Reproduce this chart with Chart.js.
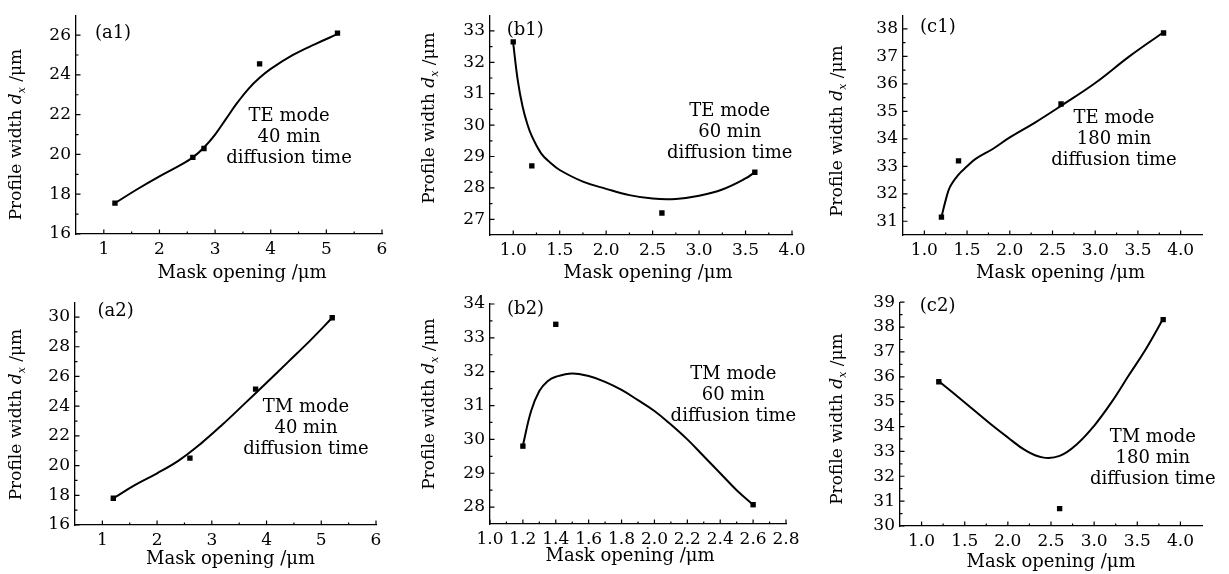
<!DOCTYPE html>
<html>
<head>
<meta charset="utf-8">
<script src="https://cdn.jsdelivr.net/npm/chart.js@4.4.0/dist/chart.umd.min.js"></script>
<style>
  body { margin: 0; background: #fff; }
  #wrap { position: relative; width: 1229px; height: 574px; }
  .cell { position: absolute; }
</style>
</head>
<body>
<div id="wrap">
  <div class="cell" style="left:0;top:0"><canvas id="a1" width="410" height="287"></canvas></div>
  <div class="cell" style="left:410px;top:0"><canvas id="b1" width="410" height="287"></canvas></div>
  <div class="cell" style="left:820px;top:0"><canvas id="c1" width="409" height="287"></canvas></div>
  <div class="cell" style="left:0;top:287px"><canvas id="a2" width="410" height="287"></canvas></div>
  <div class="cell" style="left:410px;top:287px"><canvas id="b2" width="410" height="287"></canvas></div>
  <div class="cell" style="left:820px;top:287px"><canvas id="c2" width="409" height="287"></canvas></div>
</div>
<script>
// measured points (squares)
const a1X = [1.2, 2.6, 2.8, 3.8, 5.2];
const a1Y = [17.55, 19.85, 20.3, 24.55, 26.1];
const b1X = [1.0, 1.2, 2.6, 3.6];
const b1Y = [32.65, 28.7, 27.2, 28.5];
const c1X = [1.2, 1.4, 2.6, 3.8];
const c1Y = [31.15, 33.2, 35.27, 37.85];
const a2X = [1.2, 2.6, 3.8, 5.2];
const a2Y = [17.8, 20.5, 25.15, 29.95];
const b2X = [1.2, 1.4, 2.6];
const b2Y = [29.8, 33.4, 28.07];
const c2X = [1.2, 2.6, 3.8];
const c2Y = [35.8, 30.7, 38.3];

// fitted curves
const a1CurveX = [1.2, 1.6, 2.0, 2.4, 2.6, 2.8, 3.0, 3.2, 3.4, 3.6, 3.8, 4.0, 4.4, 4.8, 5.2];
const a1CurveY = [17.55, 18.25, 18.9, 19.5, 19.85, 20.35, 21.0, 21.8, 22.6, 23.3, 23.85, 24.3, 25.0, 25.55, 26.05];
const b1CurveX = [1.0, 1.05, 1.1, 1.15, 1.2, 1.3, 1.4, 1.5, 1.75, 2.0, 2.25, 2.5, 2.75, 3.0, 3.25, 3.5, 3.6];
const b1CurveY = [32.6, 31.4, 30.6, 30.05, 29.65, 29.1, 28.8, 28.57, 28.2, 27.97, 27.77, 27.66, 27.65, 27.75, 27.95, 28.3, 28.5];
const c1CurveX = [1.2, 1.25, 1.3, 1.4, 1.5, 1.6, 1.8, 2.0, 2.3, 2.6, 3.0, 3.4, 3.8];
const c1CurveY = [31.15, 31.77, 32.25, 32.7, 33.0, 33.27, 33.63, 34.05, 34.6, 35.2, 36.03, 37.0, 37.88];
const a2CurveX = [1.2, 1.6, 2.0, 2.4, 2.8, 3.2, 3.6, 4.0, 4.4, 4.8, 5.2];
const a2CurveY = [17.8, 18.7, 19.48, 20.35, 21.48, 22.78, 24.17, 25.58, 27.0, 28.43, 29.95];
const b2CurveX = [1.2, 1.25, 1.3, 1.35, 1.4, 1.5, 1.6, 1.7, 1.8, 1.9, 2.0, 2.1, 2.2, 2.3, 2.4, 2.5, 2.6];
const b2CurveY = [29.82, 30.84, 31.43, 31.72, 31.85, 31.95, 31.87, 31.7, 31.46, 31.16, 30.84, 30.44, 30.0, 29.5, 29.0, 28.5, 28.07];
const c2CurveX = [1.2, 1.5, 1.8, 2.0, 2.2, 2.4, 2.6, 2.8, 3.0, 3.2, 3.4, 3.6, 3.8];
const c2CurveY = [35.82, 34.97, 34.1, 33.56, 33.05, 32.76, 32.82, 33.29, 34.03, 34.97, 36.05, 37.12, 38.33];

// tick labels
const xTicksA = [1, 2, 3, 4, 5, 6];
const xTicksBC = [1.0, 1.5, 2.0, 2.5, 3.0, 3.5, 4.0];
const xTicksB2 = [1.0, 1.2, 1.4, 1.6, 1.8, 2.0, 2.2, 2.4, 2.6, 2.8];
const yTicksA1 = [16, 18, 20, 22, 24, 26];
const yTicksB1 = [27, 28, 29, 30, 31, 32, 33];
const yTicksC1 = [31, 32, 33, 34, 35, 36, 37, 38];
const yTicksA2 = [16, 18, 20, 22, 24, 26, 28, 30];
const yTicksB2 = [28, 29, 30, 31, 32, 33, 34];
const yTicksC2 = [30, 31, 32, 33, 34, 35, 36, 37, 38, 39];

const FONT_FAMILY = '"DejaVu Serif", "Liberation Serif", serif';
const TICK_FONT = 17;
const TEXT_FONT = 18;
const YTITLE_FONT = 17;

function zip(xs, ys) {
    return xs.map((x, i) => ({ x: x, y: ys[i] }));
}

// draws the inside ticks, panel tag, note and the axis titles
const decor = {
    id: 'decor',
    afterDraw: function(chart, args, o) {
        var ctx = chart.ctx,
            ca = chart.chartArea,
            xs = chart.scales.x,
            ys = chart.scales.y;
        ctx.save();
        ctx.strokeStyle = '#000';
        ctx.lineWidth = 1.2;
        ctx.beginPath();
        // x ticks (major + minor in between)
        var xt = o.xTicks;
        for (let i = 0; i < xt.length; i++) {
            let px = xs.getPixelForValue(xt[i]);
            ctx.moveTo(px, ca.bottom); ctx.lineTo(px, ca.bottom - 4.5);
            if (i < xt.length - 1) {
                let mx = xs.getPixelForValue((xt[i] + xt[i + 1]) / 2);
                ctx.moveTo(mx, ca.bottom); ctx.lineTo(mx, ca.bottom - 2.5);
            }
        }
        if (xs.getPixelForValue(xt[0] - (xt[1] - xt[0]) / 2) > ca.left + 1) {
            let mx = xs.getPixelForValue(xt[0] - (xt[1] - xt[0]) / 2);
            ctx.moveTo(mx, ca.bottom); ctx.lineTo(mx, ca.bottom - 2.5);
        }
        var yt = o.yTicks;
        for (let i = 0; i < yt.length; i++) {
            let py = ys.getPixelForValue(yt[i]);
            ctx.moveTo(ca.left, py); ctx.lineTo(ca.left + 4.5, py);
            let my = ys.getPixelForValue(yt[i] + (yt[1] - yt[0]) / 2);
            if (my > ca.top + 1) {
                ctx.moveTo(ca.left, my); ctx.lineTo(ca.left + 2.5, my);
            }
        }
        ctx.stroke();

        ctx.fillStyle = '#000';
        ctx.font = TEXT_FONT + 'px ' + FONT_FAMILY;
        ctx.textBaseline = 'middle';

        // panel tag like (a1)
        ctx.textAlign = 'left';
        ctx.fillText(o.tag, xs.getPixelForValue(o.tagAt[0]), ys.getPixelForValue(o.tagAt[1]));

        // note block
        ctx.textAlign = 'center';
        var nx = xs.getPixelForValue(o.noteAt[0]),
            ny = ys.getPixelForValue(o.noteAt[1]);
        o.note.forEach(function(line, i) {
            ctx.fillText(line, nx, ny + i * 21);
        });

        // x title
        ctx.fillText('Mask opening /\u03bcm', (ca.left + ca.right) / 2 + o.xTitle[0], ca.bottom + o.xTitle[1]);

        // y title with italic d and subscript x
        var cx = o.yTitle[0],
            cy = (ca.top + ca.bottom) / 2 + o.yTitle[1];
        var normal = YTITLE_FONT + 'px ' + FONT_FAMILY,
            italic = 'italic ' + YTITLE_FONT + 'px ' + FONT_FAMILY,
            small = 'italic ' + Math.round(YTITLE_FONT * 0.62) + 'px ' + FONT_FAMILY;
        var parts = [
            { t: 'Profile width ', f: normal, dy: 0 },
            { t: 'd', f: italic, dy: 0 },
            { t: 'x', f: small, dy: 5 },
            { t: ' /\u03bcm', f: normal, dy: 0 }
        ];
        var total = 0;
        parts.forEach(function(p) { ctx.font = p.f; p.w = ctx.measureText(p.t).width; total += p.w; });
        ctx.translate(cx, cy);
        ctx.rotate(-Math.PI / 2);
        ctx.textAlign = 'left';
        var pos = -total / 2;
        parts.forEach(function(p) {
            ctx.font = p.f;
            ctx.fillText(p.t, pos, p.dy);
            pos += p.w;
        });
        ctx.restore();
    }
};

function makePanel(id, p) {
    return new Chart(document.getElementById(id), {
        type: 'scatter',
        plugins: [decor],
        data: {
            datasets: [{
                type: 'line',
                data: zip(p.curveX, p.curveY),
                borderColor: '#000',
                borderWidth: 2,
                pointRadius: 0,
                tension: 0.4,
                fill: false
            }, {
                data: zip(p.ptsX, p.ptsY),
                backgroundColor: '#000',
                borderColor: '#000',
                pointStyle: 'rect',
                pointRadius: 3.8,
                borderWidth: 0
            }]
        },
        options: {
            responsive: false,
            animation: false,
            layout: { padding: { top: p.padTop, right: p.padRight, left: 0, bottom: 0 } },
            plugins: {
                legend: { display: false },
                tooltip: { enabled: false },
                decor: {
                    xTicks: p.xTicks, yTicks: p.yTicks,
                    tag: p.tag, tagAt: p.tagAt,
                    note: p.note, noteAt: p.noteAt,
                    xTitle: p.xTitle, yTitle: p.yTitle
                }
            },
            scales: {
                x: {
                    type: 'linear',
                    min: p.xMin, max: p.xMax,
                    afterBuildTicks: function(s) { s.ticks = p.xTicks.map(v => ({ value: v })); },
                    afterFit: function(s) { s.height = p.xH; },
                    grid: { display: true, drawOnChartArea: false, drawTicks: false },
                    border: { display: true, color: '#000', width: 1.3 },
                    ticks: {
                        color: '#000',
                        padding: 5,
                        maxRotation: 0,
                        autoSkip: false,
                        font: { family: FONT_FAMILY, size: TICK_FONT },
                        callback: function(v) { return p.xDec ? v.toFixed(1) : String(v); }
                    }
                },
                y: {
                    type: 'linear',
                    min: p.yMin, max: p.yMax,
                    afterBuildTicks: function(s) { s.ticks = p.yTicks.map(v => ({ value: v })); },
                    afterFit: function(s) { s.width = p.yW; },
                    grid: { display: true, drawOnChartArea: false, drawTicks: false },
                    border: { display: true, color: '#000', width: 1.3 },
                    ticks: {
                        color: '#000',
                        padding: 5,
                        autoSkip: false,
                        font: { family: FONT_FAMILY, size: TICK_FONT },
                        callback: function(v) { return String(v); }
                    }
                }
            }
        }
    });
}

makePanel('a1', {
    ptsX: a1X, ptsY: a1Y, curveX: a1CurveX, curveY: a1CurveY,
    xMin: 0.5, xMax: 6, yMin: 16, yMax: 27, xTicks: xTicksA, yTicks: yTicksA1, xDec: false,
    yW: 76, xH: 53, padTop: 7, padRight: 28,
    tag: '(a1)', tagAt: [0.84, 26.1],
    note: ['TE mode', '40 min', 'diffusion time'], noteAt: [4.33, 21.9],
    xTitle: [13, 39], yTitle: [17, 10]
});
makePanel('b1', {
    ptsX: b1X, ptsY: b1Y, curveX: b1CurveX, curveY: b1CurveY,
    xMin: 0.75, xMax: 4.0, yMin: 26.5, yMax: 33.5, xTicks: xTicksBC, yTicks: yTicksB1, xDec: true,
    yW: 80, xH: 52, padTop: 13, padRight: 28,
    tag: '(b1)', tagAt: [0.93, 33.03],
    note: ['TE mode', '60 min', 'diffusion time'], noteAt: [3.33, 30.43],
    xTitle: [7, 38], yTitle: [20, -7]
});
makePanel('c1', {
    ptsX: c1X, ptsY: c1Y, curveX: c1CurveX, curveY: c1CurveY,
    xMin: 0.75, xMax: 4.25, yMin: 30.5, yMax: 38.5, xTicks: xTicksBC, yTicks: yTicksC1, xDec: true,
    yW: 83, xH: 52, padTop: 13, padRight: 27,
    tag: '(c1)', tagAt: [0.95, 38.07],
    note: ['TE mode', '180 min', 'diffusion time'], noteAt: [3.22, 34.73],
    xTitle: [8, 38], yTitle: [18, 6]
});
makePanel('a2', {
    ptsX: a2X, ptsY: a2Y, curveX: a2CurveX, curveY: a2CurveY,
    xMin: 0.5, xMax: 6, yMin: 16, yMax: 31, xTicks: xTicksA, yTicks: yTicksA2, xDec: false,
    yW: 75, xH: 49, padTop: 14, padRight: 34,
    tag: '(a2)', tagAt: [0.91, 30.38],
    note: ['TM mode', '40 min', 'diffusion time'], noteAt: [4.72, 23.92],
    xTitle: [5, 34], yTitle: [17, 1]
});
makePanel('b2', {
    ptsX: b2X, ptsY: b2Y, curveX: b2CurveX, curveY: b2CurveY,
    xMin: 1.0, xMax: 2.8, yMin: 27.5, yMax: 34, xTicks: xTicksB2, yTicks: yTicksB2, xDec: true,
    yW: 80, xH: 50, padTop: 17, padRight: 34,
    tag: '(b2)', tagAt: [1.104, 33.84],
    note: ['TM mode', '60 min', 'diffusion time'], noteAt: [2.48, 31.91],
    xTitle: [-8, 32], yTitle: [20, -10]
});
makePanel('c2', {
    ptsX: c2X, ptsY: c2Y, curveX: c2CurveX, curveY: c2CurveY,
    xMin: 0.75, xMax: 4.25, yMin: 30, yMax: 39, xTicks: xTicksBC, yTicks: yTicksC2, xDec: true,
    yW: 80, xH: 48, padTop: 15, padRight: 27,
    tag: '(c2)', tagAt: [0.98, 38.85],
    note: ['TM mode', '180 min', 'diffusion time'], noteAt: [3.68, 33.57],
    xTitle: [0, 36], yTitle: [18, 5]
});
</script>
</body>
</html>
